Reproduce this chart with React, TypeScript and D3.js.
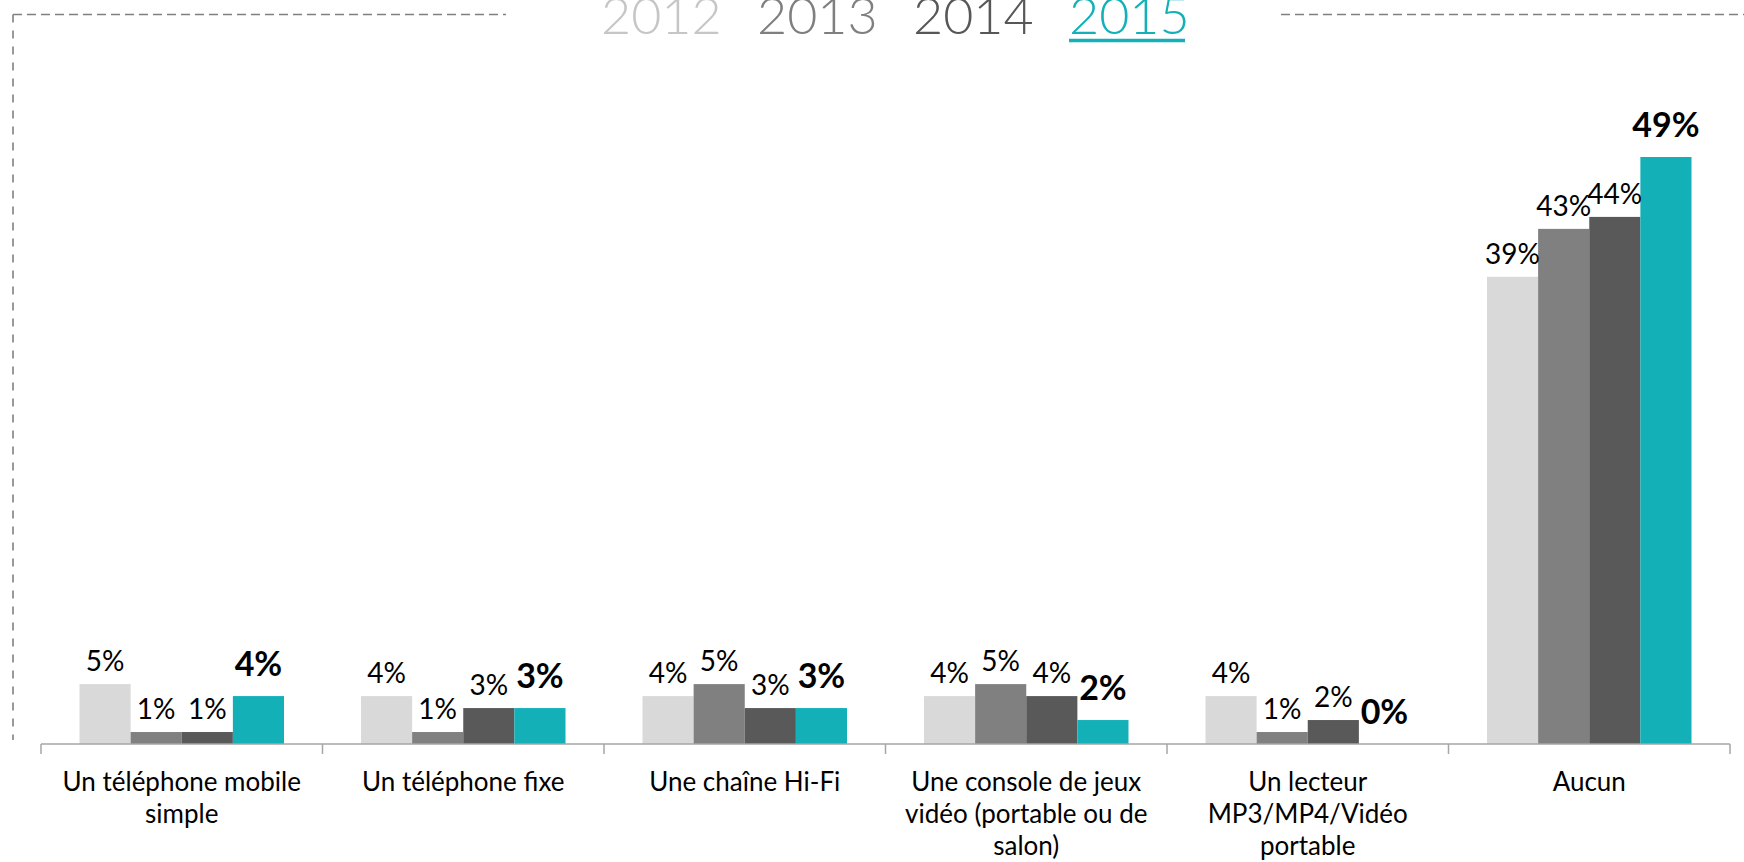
import React from "react";
import * as d3 from "d3";

// categories (label lines), series and title
const categories = [
  ["Un téléphone mobile", "simple"],
  ["Un téléphone fixe"],
  ["Une chaîne Hi-Fi"],
  ["Une console de jeux", "vidéo (portable ou de", "salon)"],
  ["Un lecteur", "MP3/MP4/Vidéo", "portable"],
  ["Aucun"],
];
const years = ["2012", "2013", "2014", "2015"];
const values2012 = [5, 4, 4, 4, 4, 39];
const values2013 = [1, 1, 5, 5, 1, 43];
const values2014 = [1, 3, 3, 4, 2, 44];
const values2015 = [4, 3, 3, 2, 0, 49];
const series = [values2012, values2013, values2014, values2015];
const colors = ["#d9d9d9", "#808080", "#595959", "#13b0b8"];
const titleColors = ["#c6c6c6", "#7f7f7f", "#575757", "#13b0b8"];

const W = 1744;
const H = 862;
const baseY = 744;
const labelFont = "Lato, 'Open Sans', 'Liberation Sans', sans-serif";

export default function App() {
  const ids = categories.map((_, i) => String(i));
  const x0 = d3.scaleBand().domain(ids).range([41, 1730]).padding(0);
  const bw = x0.bandwidth();
  const x1 = d3.scaleBand().domain(years).range([38.5, bw - 38.5]).padding(0);
  const y = d3.scaleLinear().domain([0, 49]).range([baseY, 157]);
  const ticks = [...ids.map((id) => x0(id) as number), 1730];

  return (
    <svg width={W} height={H} style={{ position: "absolute", left: 0, top: 0, background: "#fff" }}>
      {/* dashed frame */}
      <g stroke="#808080" strokeWidth={1.6} fill="none">
        <line x1={13} y1={14.5} x2={506} y2={14.5} strokeDasharray="9,5" />
        <line x1={1281} y1={14.5} x2={W} y2={14.5} strokeDasharray="9,5" />
        <line x1={13} y1={14.5} x2={13} y2={740} strokeDasharray="8,8" />
      </g>

      {/* title years */}
      <g fontFamily="Lato, 'Open Sans', sans-serif" fontWeight={300} fontSize={52}>
        {years.map((yr, i) => (
          <text key={yr} x={601 + i * 156} y={34} fill={titleColors[i]}>
            {yr}
          </text>
        ))}
      </g>
      <line x1={1069} x2={1185} y1={40.5} y2={40.5} stroke={titleColors[3]} strokeWidth={3.5} />

      {/* bars */}
      {series.map((vals, s) => (
        <g key={years[s]} fill={colors[s]}>
          {vals.map((v, c) => (
            <rect
              key={c}
              x={(x0(String(c)) as number) + (x1(years[s]) as number)}
              y={y(v)}
              width={x1.bandwidth()}
              height={baseY - y(v)}
            />
          ))}
        </g>
      ))}

      {/* value labels */}
      {series.map((vals, s) => (
        <g key={"l" + years[s]} fontFamily={labelFont} textAnchor="middle" fill="#000">
          {vals.map((v, c) => {
            const bold = s === 3;
            return (
              <text
                key={c}
                x={(x0(String(c)) as number) + (x1(years[s]) as number) + x1.bandwidth() / 2}
                y={y(v) - (bold ? 20 : 13)}
                fontSize={bold ? 34 : 28}
                fontWeight={bold ? 700 : 400}
              >
                {v + "%"}
              </text>
            );
          })}
        </g>
      ))}

      {/* axis */}
      <g stroke="#a6a6a6" strokeWidth={1.5}>
        <line x1={41} x2={1730} y1={baseY} y2={baseY} />
        {ticks.map((t, i) => (
          <line key={i} x1={t} x2={t} y1={baseY} y2={baseY + 10} />
        ))}
      </g>
      <g fontFamily={labelFont} fontSize={26} textAnchor="middle" fill="#000">
        {categories.map((lines, c) => (
          <text key={c} x={(x0(String(c)) as number) + bw / 2} y={791}>
            {lines.map((ln, k) => (
              <tspan key={k} x={(x0(String(c)) as number) + bw / 2} dy={k === 0 ? 0 : 32}>
                {ln}
              </tspan>
            ))}
          </text>
        ))}
      </g>
    </svg>
  );
}
